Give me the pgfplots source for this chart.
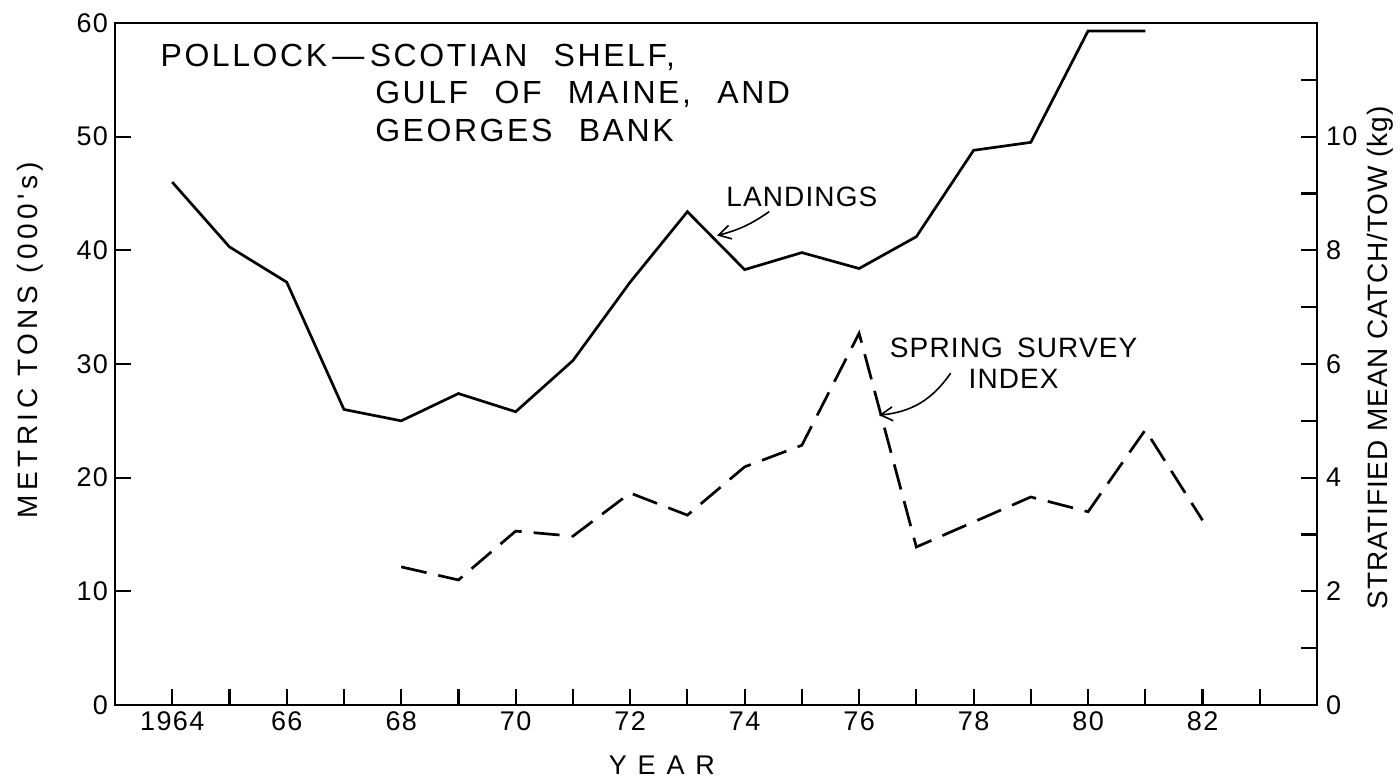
\documentclass[border=0pt]{standalone}
\usepackage{pgfplots}
\pgfplotsset{compat=1.18}
\usepackage{fontspec}
\setmainfont{Liberation Sans}
\newfontfamily\tickfont[LetterSpace=5]{Liberation Sans}
\newfontfamily\titlefont[LetterSpace=8,WordSpace=2.3]{Liberation Sans}
\newfontfamily\lablfont[LetterSpace=16]{Liberation Sans}
\newfontfamily\labrfont[LetterSpace=3]{Liberation Sans}
\newfontfamily\notefont[LetterSpace=4,WordSpace=1.6]{Liberation Sans}
\usetikzlibrary{arrows.meta}

\begin{document}
\begin{tikzpicture}
\useasboundingbox (-57.5pt,-37.5pt) rectangle (642.5pt,352.5pt);
\pgfplotsset{
 common/.style={at={(0,0)}, anchor=south west, scale only axis,
  width=601pt, height=341pt, xmin=1963, xmax=1984,
  tick align=inside, major tick length=8pt, minor tick length=8pt,
  tick style={black, line width=1.1pt},
  axis line style={line width=1.4pt},
  /pgf/number format/assume math mode=true,
  ticklabel style={font=\tickfont\fontsize{13.5}{15}\selectfont},
 }
}
\begin{axis}[common, ymin=0, ymax=60,
 xtick={1964,1966,...,1982}, xticklabels={1964,66,68,70,72,74,76,78,80,82},
 minor xtick={1965,1967,...,1983},
 ytick={0,10,...,60},
 xtick pos=bottom, ytick pos=left,
 ylabel={METRIC TONS (000's)},
 ylabel style={font=\lablfont\fontsize{14}{16}\selectfont, at={(axis description cs:-0.0707,0.535)}, anchor=center},
 xlabel={Y\hspace{0.4em}E\hspace{0.4em}A\hspace{0.4em}R},
 xlabel style={font=\lablfont\fontsize{13.5}{15}\selectfont, at={(axis description cs:0.455,-0.088)}, anchor=center},
 clip=false]
\addplot[black, line width=1.35pt] coordinates {
 (1964,46.0) (1965,40.3) (1966,37.2) (1967,26.0) (1968,25.0) (1969,27.4)
 (1970,25.8) (1971,30.3) (1972,37.2) (1973,43.4) (1974,38.3) (1975,39.8)
 (1976,38.4) (1977,41.2) (1978,48.8) (1979,49.5) (1980,59.3) (1981,59.3)};
\node[anchor=west, inner sep=0, font=\titlefont\fontsize{16}{19}\selectfont] at (axis cs:1963.79,57.0) {POLLOCK\,—\,SCOTIAN SHELF,};
\node[anchor=west, inner sep=0, font=\titlefont\fontsize{16}{19}\selectfont] at (axis cs:1967.54,53.7) {GULF OF MAINE, AND};
\node[anchor=west, inner sep=0, font=\titlefont\fontsize{16}{19}\selectfont] at (axis cs:1967.54,50.5) {GEORGES BANK};
\node[inner sep=0, font=\notefont\fontsize{14}{16}\selectfont] at (axis cs:1975.0,44.7) {LANDINGS};
\draw[-{Straight Barb[length=6pt,width=7pt]}, line width=0.8pt] (axis cs:1974.43,43.4) to[bend left=10] (axis cs:1973.52,41.3);
\node[inner sep=0, align=center, font=\notefont\fontsize{14}{15.5}\selectfont] at (axis cs:1978.7,30.1) {SPRING SURVEY\\INDEX};
\draw[-{Straight Barb[length=6pt,width=7pt]}, line width=0.8pt] (axis cs:1977.6,29.2) to[bend left=25] (axis cs:1976.35,25.5);
\end{axis}
\begin{axis}[common, ymin=0, ymax=12, axis x line=none, axis y line*=right,
 ytick={0,2,...,10}, minor ytick={1,3,...,11},
 yticklabel style={xshift=1pt},
 ylabel={STRATIFIED MEAN CATCH/TOW (kg)},
 ylabel style={font=\labrfont\fontsize{14}{16}\selectfont, at={(axis description cs:1.053,0.509)}, anchor=center}]
\addplot[black, line width=1.35pt, dash pattern=on 13pt off 6pt] coordinates {
 (1968,2.43) (1969,2.20) (1970,3.06) (1971,2.97) (1972,3.73) (1973,3.34)
 (1974,4.19) (1975,4.57) (1976,6.54) (1977,2.78) (1978,3.22) (1979,3.66)
 (1980,3.40) (1981,4.84) (1982,3.25)};
\end{axis}
\end{tikzpicture}
\end{document}
